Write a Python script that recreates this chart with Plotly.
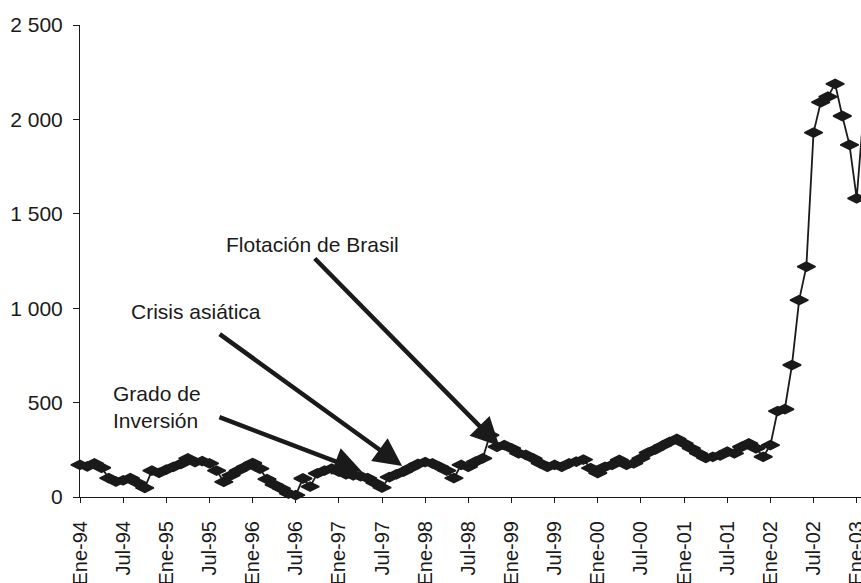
import plotly.graph_objects as go

# Monthly values, Ene-94 (index 0) to Feb-03 (index 109)
month_index = list(range(110))
spread = [
    170, 162, 178, 155, 100, 82, 88, 100, 75, 48, 140, 128,      # 1994
    145, 160, 175, 205, 185, 190, 178, 140, 80, 115, 140, 160,    # 1995
    180, 150, 95, 65, 45, 18, 10, 98, 55, 125, 140, 150,          # 1996
    135, 120, 115, 110, 100, 75, 50, 105, 120, 135, 155, 175,     # 1997
    185, 178, 160, 140, 100, 170, 160, 187, 205, 328, 266, 275,   # 1998
    258, 231, 223, 205, 178, 160, 170, 160, 178, 187, 198, 153,   # 1999
    127, 160, 170, 196, 170, 178, 205, 235, 252, 272, 292, 308,   # 2000
    284, 258, 231, 207, 213, 220, 240, 231, 266, 284, 258, 213,   # 2001
    275, 455, 465, 699, 1043, 1220, 1930, 2091, 2120, 2188, 2018, 1865,  # 2002
    1582, 2060,                                                   # 2003
]

x_tick_vals = list(range(0, 109, 6))
x_tick_text = ["Ene-94", "Jul-94", "Ene-95", "Jul-95", "Ene-96", "Jul-96",
               "Ene-97", "Jul-97", "Ene-98", "Jul-98", "Ene-99", "Jul-99",
               "Ene-00", "Jul-00", "Ene-01", "Jul-01", "Ene-02", "Jul-02",
               "Ene-03"]
y_tick_vals = [0, 500, 1000, 1500, 2000, 2500]
y_tick_text = ["0", "500", "1 000", "1 500", "2 000", "2 500"]

# annotation events: label, label position, arrow tip (data), arrow tail offset (px)
events = [
    ("Flotación de Brasil", 32.3, 1335, 58.3, 270, -186, -189),
    ("Crisis asiática", 16.1, 980, 44.8, 164, -184, -133),
    ("Grado de<br>Inversión", 10.7, 477, 39.2, 135, -144, -55),
]

INK = "#1a1a1a"
FONT = "Liberation Sans, Arial, Helvetica, sans-serif"

fig = go.Figure()
fig.add_trace(go.Scatter(
    x=month_index, y=spread, mode="lines+markers",
    line=dict(color=INK, width=1.8),
    marker=dict(symbol="diamond-wide", size=13, color=INK,
                line=dict(color=INK, width=1.5)),
    cliponaxis=False, showlegend=False, hoverinfo="skip",
))

annotations = []
for label, tx, ty, hx, hy, axp, ayp in events:
    annotations.append(dict(
        x=tx, y=ty, xref="x", yref="y", text=label, showarrow=False,
        font=dict(family=FONT, size=21, color=INK), align="left",
    ))
    annotations.append(dict(
        x=hx, y=hy, xref="x", yref="y", text="", showarrow=True,
        ax=axp, ay=ayp, arrowhead=2, arrowsize=1.25, arrowwidth=4.5,
        arrowcolor=INK, standoff=0,
    ))

fig.update_layout(
    width=861, height=583,
    margin=dict(l=80, r=0, t=25, b=86),
    paper_bgcolor="white", plot_bgcolor="white",
    font=dict(family=FONT, size=20, color=INK),
    annotations=annotations,
    xaxis=dict(
        range=[0, 108.6], tickmode="array", tickvals=x_tick_vals,
        ticktext=x_tick_text, tickangle=-90, ticks="outside", ticklen=5,
        tickcolor=INK, showline=True, linecolor=INK, linewidth=1,
        showgrid=False, zeroline=False, ticklabelstandoff=10,
        ticklabeloverflow="allow", automargin=False,
        tickfont=dict(family=FONT, size=20, color=INK),
    ),
    yaxis=dict(
        range=[0, 2500], tickmode="array", tickvals=y_tick_vals,
        ticktext=y_tick_text, ticks="outside", ticklen=6, tickcolor=INK,
        showline=True, linecolor=INK, linewidth=1, showgrid=False,
        zeroline=False, ticklabelstandoff=6, automargin=False,
        tickfont=dict(family=FONT, size=21, color=INK),
    ),
)

page_css = (
    "document.documentElement.style.margin='0';"
    "document.body.style.margin='0';"
    "document.documentElement.style.overflow='hidden';"
    "document.body.style.overflow='hidden';"
)
fig.write_html("out.html", post_script=page_css,
               config={"displayModeBar": False})
